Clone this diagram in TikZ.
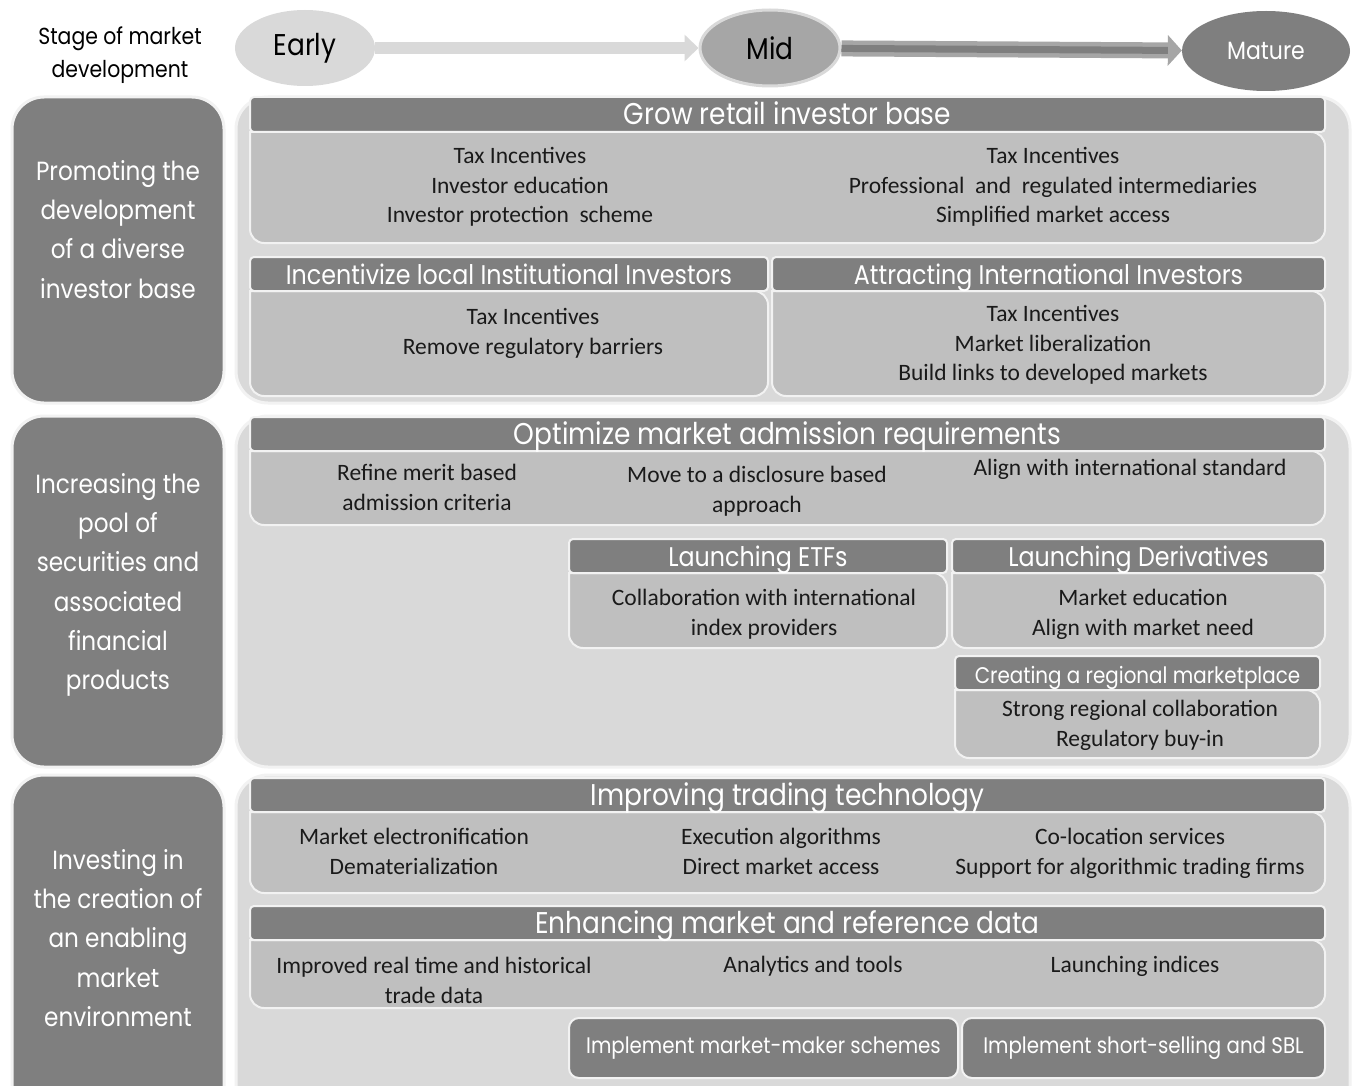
\documentclass[tikz,border=0pt]{standalone}
\usepackage{fontspec}
\setmainfont{Carlito}
\newfontfamily\headfont[FakeStretch=0.88]{Poppins}
\usetikzlibrary{shapes.geometric,arrows.meta}

\definecolor{darkgrey}{HTML}{7F7F7F}
\definecolor{midgrey}{HTML}{A6A6A6}
\definecolor{bodygrey}{HTML}{BFBFBF}
\definecolor{panelgrey}{HTML}{D9D9D9}
\definecolor{edgegrey}{HTML}{F2F2F2}
\definecolor{inkgrey}{HTML}{1A1A1A}

\tikzset{
  panel/.style={fill=panelgrey,draw=edgegrey,line width=3pt,rounded corners=32pt},
  sidepanel/.style={fill=darkgrey,draw=edgegrey,line width=3pt,rounded corners=32pt},
  headbar/.style={fill=darkgrey,draw=edgegrey,line width=2pt,rounded corners=4pt},
  bodybar/.style={fill=bodygrey,draw=edgegrey,line width=2pt},
  headtext/.style={text=white,inner sep=0pt,font=\headfont\fontsize{30}{30}\selectfont},
  subheadtext/.style={headtext,font=\headfont\fontsize{27}{30}\selectfont},
  smallheadtext/.style={headtext,font=\headfont\fontsize{22.6}{30}\selectfont},
  sidetext/.style={text=white,align=center,inner sep=0pt,font=\headfont\fontsize{26.3}{39.3}\selectfont},
  item/.style={text=inkgrey,align=center,inner sep=0pt,anchor=north,font=\fontsize{23.5}{29.6}\selectfont},
  stage/.style={ellipse,inner sep=0pt,font=\headfont\fontsize{30}{34}\selectfont},
  actbox/.style={fill=darkgrey,draw=edgegrey,line width=2pt,rounded corners=10pt,inner sep=0pt,
    minimum height=60pt,text=white,font=\headfont\fontsize{22.5}{30}\selectfont},
}

% style, name, x1, y1, x2, y head, y body, title
\newcommand{\capbox}[8][headtext]{%
  \path[bodybar] (#3,#6) [rounded corners=14pt] -- (#3,#7) -- (#5,#7) -- (#5,#6) [sharp corners] -- cycle;
  \path[headbar] (#3,#4) rectangle (#5,#6);
  \node[#1,anchor=base] (#2) at ({(#3+#5)/2},{#6-7}) {#8};
}

\begin{document}
\begin{tikzpicture}[x=1pt,y=-1pt]
\clip (0,0) rectangle (1357,1086);
\fill[white] (0,0) rectangle (1357,1086);

\node[align=center,inner sep=0pt,anchor=north,font=\headfont\fontsize{23.2}{33}\selectfont] (stagelbl) at (120,27) {Stage of market\\development};
\node[stage,fill=panelgrey,minimum width=140pt,minimum height=76pt] (early) at (305,48) {Early};
\node[stage,fill=midgrey,draw=panelgrey,line width=3pt,minimum width=140pt,minimum height=76pt] (mid) at (770,48) {Mid};
\node[stage,fill=darkgrey,text=white,minimum width=168pt,minimum height=80pt,font=\headfont\fontsize{25}{30}\selectfont] (mature) at (1266,51) {Mature};
\draw[line width=12pt,panelgrey,-{Triangle[length=14pt,width=26pt]}] (early) -- (mid);
\draw[line width=16pt,midgrey,-{Triangle[length=14pt,width=30pt]}] (mid) -- (mature);
\draw[line width=7pt,darkgrey,shorten >=14pt] (mid) -- (mature);

\draw[sidepanel] (12,97) rectangle (224,403);
\draw[sidepanel] (12,416) rectangle (224,767);
\draw[sidepanel] (12,775) rectangle (224,1120);
\draw[panel] (236,97) rectangle (1350,403);
\draw[panel] (236,416) rectangle (1350,767);
\draw[panel] (236,775) rectangle (1350,1120);

\node[sidetext,anchor=north] (diverse) at (118,160) {Promoting the\\development\\of a diverse\\investor base};
\node[sidetext,anchor=north] (pool) at (118,473) {Increasing the\\pool of\\securities and\\associated\\financial\\products};
\node[sidetext,anchor=north] (enable) at (118,849) {Investing in\\the creation of\\an enabling\\market\\environment};

\capbox{grow}{250}{97}{1325}{132}{243}{Grow retail investor base}
\node[item] (growl) at (520,147) {Tax Incentives\\Investor education\\Investor protection\ \ scheme};
\node[item] (growr) at (1053,147) {Tax Incentives\\Professional\ \ and\ \ regulated intermediaries\\Simplified market access};
\capbox[subheadtext]{local}{250}{257}{768}{291}{396}{Incentivize\ local\ Institutional\ Investors}
\node[item] (locali) at (533,308) {Tax Incentives\\Remove regulatory barriers};
\capbox[subheadtext]{intl}{772}{257}{1325}{291}{396}{Attracting\ International\ Investors}
\node[item] (intli) at (1053,305) {Tax Incentives\\Market liberalization\\Build links to developed markets};

\capbox{admit}{250}{417}{1325}{451}{525}{Optimize market admission requirements}
\node[item] (admita) at (427,464) {Refine merit based\\admission criteria};
\node[item] (admitb) at (757,466) {Move to a disclosure based\\approach};
\node[item] (admitc) at (1130,459) {Align with international standard};
\capbox[subheadtext]{etf}{569}{539}{947}{573}{648}{Launching ETFs}
\node[item] (etfi) at (764,589) {Collaboration with international\\index providers};
\capbox[subheadtext]{deriv}{952}{539}{1325}{573}{648}{Launching Derivatives}
\node[item] (derivi) at (1143,589) {Market education\\Align with market need};
\capbox[smallheadtext]{region}{955}{656}{1320}{690}{758}{Creating a regional marketplace}
\node[item] (regioni) at (1140,700) {Strong regional collaboration\\Regulatory buy-in};

\capbox{tech}{250}{778}{1325}{812}{893}{Improving trading technology}
\node[item] (techa) at (414,828) {Market electronification\\Dematerialization};
\node[item] (techb) at (781,828) {Execution algorithms\\Direct market access};
\node[item] (techc) at (1130,828) {Co-location services\\Support for algorithmic trading firms};
\capbox{data}{250}{906}{1325}{940}{1008}{Enhancing market and reference data}
\node[item] (dataa) at (434,957) {Improved real time and historical\\trade data};
\node[item] (datab) at (813,956) {Analytics and tools};
\node[item] (datac) at (1135,956) {Launching indices};
\node[actbox,minimum width=389pt] (maker) at (763.5,1048) {Implement market-maker schemes};
\node[actbox,minimum width=363pt] (short) at (1143.5,1048) {Implement short-selling and SBL};
\end{tikzpicture}
\end{document}
